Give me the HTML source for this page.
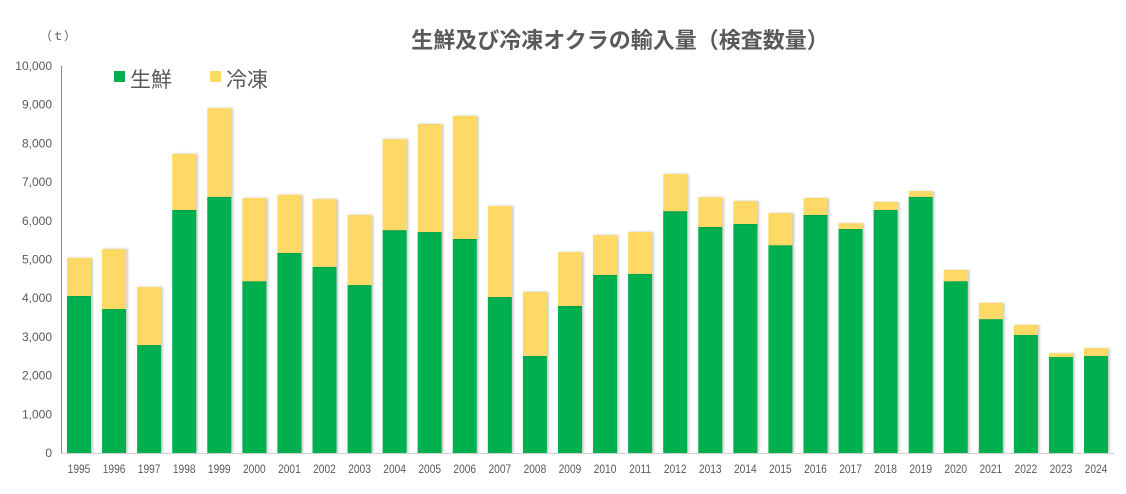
<!DOCTYPE html>
<html><head><meta charset="utf-8"><style>
body{margin:0;background:#fff;}
svg text{font-family:"Liberation Sans","Noto Sans CJK JP",sans-serif;fill:#595959;}
</style></head><body>
<svg width="1126" height="489">
<defs><filter id="sh" x="-20%" y="-5%" width="150%" height="110%"><feDropShadow dx="1.5" dy="0" stdDeviation="1.2" flood-color="#000" flood-opacity="0.25"/></filter></defs>
<text x="620" y="48" text-anchor="middle" font-size="22" font-weight="bold">生鮮及び冷凍オクラの輸入量（検査数量）</text>
<text x="40" y="40" font-size="12">（ｔ）</text>
<g>
<rect x="114" y="71" width="11" height="11" fill="#00B050"/>
<text x="130" y="87" font-size="21">生鮮</text>
<rect x="210" y="71" width="11" height="11" fill="#FFD966"/>
<text x="226" y="87" font-size="21">冷凍</text>
</g>
<g id="yax"></g>
<g id="bars"></g>
<g id="xax"></g>
</svg>
<script>
const years=[1995,1996,1997,1998,1999,2000,2001,2002,2003,2004,2005,2006,2007,2008,2009,2010,2011,2012,2013,2014,2015,2016,2017,2018,2019,2020,2021,2022,2023,2024];
const fresh=[4060,3720,2790,6280,6620,4440,5170,4810,4340,5760,5710,5530,4030,2510,3800,4600,4630,6250,5840,5920,5370,6150,5790,6280,6620,4440,3460,3050,2480,2510];
const frozen=[980,1550,1500,1450,2290,2150,1500,1750,1810,2350,2790,3180,2350,1650,1390,1030,1080,960,770,590,830,440,150,210,150,290,420,260,100,200];
const yTicks=[0,1000,2000,3000,4000,5000,6000,7000,8000,9000,10000];
const yTickLabels=["0","1,000","2,000","3,000","4,000","5,000","6,000","7,000","8,000","9,000","10,000"];
const NS="http://www.w3.org/2000/svg";
const y0=453,yTop=66,yMax=10000;
const y=v=>y0-(v/yMax)*(y0-yTop);
const x=i=>79+i*35.07;
const bw=24;
function mk(t,a,p){const e=document.createElementNS(NS,t);for(const k in a)e.setAttribute(k,a[k]);p.appendChild(e);return e;}
const yax=document.getElementById('yax'),bars=document.getElementById('bars'),xax=document.getElementById('xax');
const axl=mk('line',{x1:61.5,x2:61.5,y1:yTop,y2:y0,stroke:'#888','stroke-width':1},yax);


yTicks.forEach((v,i)=>{const t=mk('text',{x:52,y:y(v)+4,'text-anchor':'end','font-size':12},yax);t.textContent=yTickLabels[i];

});
const bl=mk('line',{x1:61,x2:1114,y1:y0+0.5,y2:y0+0.5,stroke:'#d0d0d0','stroke-width':1},xax);


years.forEach((yr,i)=>{
 const cx=x(i);
 const g=mk('rect',{x:cx-bw/2,y:y(fresh[i]),width:bw,height:y0-y(fresh[i]),fill:'#00B050',filter:'url(#sh)'},bars);
 
 
 const f=mk('rect',{x:cx-bw/2,y:y(fresh[i]+frozen[i]),width:bw,height:y(fresh[i])-y(fresh[i]+frozen[i]),fill:'#FFD966',filter:'url(#sh)'},bars);
 
 
 const t=mk('text',{x:cx,y:473,'text-anchor':'middle','font-size':12,transform:`translate(${cx},0) scale(0.85,1) translate(${-cx},0)`},xax);t.textContent=yr;
 
 
});
</script>
</body></html>
